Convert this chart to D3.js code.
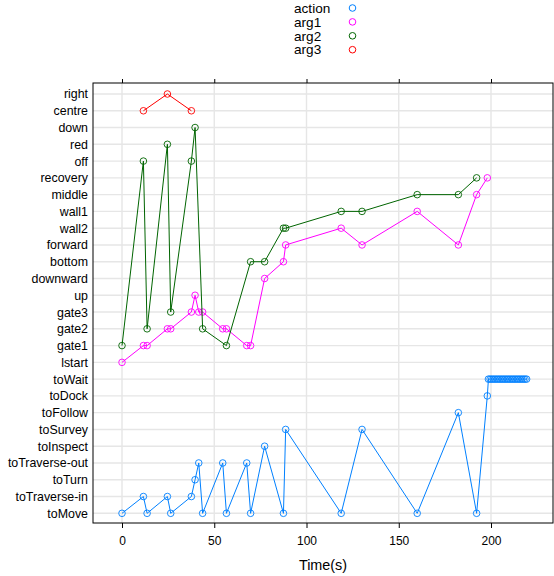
<!DOCTYPE html>
<html>
<head>
<meta charset="utf-8">
<script src="https://cdn.jsdelivr.net/npm/d3@7"></script>
<style>
  html, body { margin: 0; padding: 0; background: #ffffff; }
  svg { display: block; font-family: "Liberation Sans", Arial, Helvetica, sans-serif; }
</style>
</head>
<body>
<svg id="chart" width="554" height="576"></svg>
<script>
// Categorical states on the y axis, bottom to top
const categories = [
  "toMove", "toTraverse-in", "toTurn", "toTraverse-out", "toInspect", "toSurvey",
  "toFollow", "toDock", "toWait", "lstart", "gate1", "gate2", "gate3", "up",
  "downward", "bottom", "forward", "wall2", "wall1", "middle", "recovery",
  "off", "red", "down", "centre", "right"
];

const seriesNames = ["action", "arg1", "arg2", "arg3"];
const seriesColors = ["#0080ff", "#ff00ff", "#006400", "#ff0000"];

const xTicks = [0, 50, 100, 150, 200];

// action
const actionTime = [
  0, 11.6, 13.6, 24.6, 26.4, 37.6, 39.6, 41.6, 43.7, 54.6, 56.6, 67.6, 69.7,
  77.3, 87.5, 88.7, 118.8, 130.1, 160, 182.3, 192.2, 198,
  198.6, 199.5, 200.4, 201.3, 202.2, 203.1, 204.0, 204.9, 205.8, 206.7, 207.6,
  208.5, 209.4, 210.3, 211.2, 212.1, 213.0, 213.9, 214.8, 215.7, 216.6, 217.5,
  218.4, 219.3
];
const actionValue = [
  "toMove", "toTraverse-in", "toMove", "toTraverse-in", "toMove", "toTraverse-in",
  "toTurn", "toTraverse-out", "toMove", "toTraverse-out", "toMove", "toTraverse-out",
  "toMove", "toInspect", "toMove", "toSurvey", "toMove", "toSurvey", "toMove",
  "toFollow", "toMove", "toDock",
  "toWait", "toWait", "toWait", "toWait", "toWait", "toWait", "toWait", "toWait",
  "toWait", "toWait", "toWait", "toWait", "toWait", "toWait", "toWait", "toWait",
  "toWait", "toWait", "toWait", "toWait", "toWait", "toWait", "toWait", "toWait"
];

// arg1
const arg1Time = [
  0, 11.6, 13.6, 24.6, 26.4, 37.6, 39.6, 41.6, 43.7, 54.6, 56.6, 67.6, 69.7,
  77.3, 87.5, 88.7, 118.8, 130.1, 160, 182.3, 192.2, 198
];
const arg1Value = [
  "lstart", "gate1", "gate1", "gate2", "gate2", "gate3", "up", "gate3", "gate3",
  "gate2", "gate2", "gate1", "gate1", "downward", "bottom", "forward", "wall2",
  "forward", "wall1", "forward", "middle", "recovery"
];

// arg2
const arg2Time = [
  0, 11.6, 13.6, 24.6, 26.4, 37.6, 39.6, 43.7, 56.6, 69.7, 77.3, 87.5, 88.7,
  118.8, 130.1, 160, 182.3, 192.2
];
const arg2Value = [
  "gate1", "off", "gate2", "red", "gate3", "off", "down", "gate2", "gate1",
  "bottom", "bottom", "wall2", "wall2", "wall1", "wall1", "middle", "middle",
  "recovery"
];

// arg3
const arg3Time = [11.6, 24.6, 37.6];
const arg3Value = ["centre", "right", "centre"];

const seriesTimes = [actionTime, arg1Time, arg2Time, arg3Time];
const seriesValues = [actionValue, arg1Value, arg2Value, arg3Value];

const svg = d3.select("#chart");

// panel box
const panelLeft = 93, panelRight = 553, panelTop = 83, panelBottom = 523;

const x = d3.scaleLinear().domain([-15.72, 233.6]).range([panelLeft, panelRight]);
const y = d3.scalePoint().domain(categories).range([513.3, 94]);

// reference grid
const grid = svg.append("g");
grid.selectAll("line.h").data(categories).enter().append("line")
  .attr("x1", panelLeft).attr("x2", panelRight)
  .attr("y1", d => y(d)).attr("y2", d => y(d))
  .attr("stroke", "#e6e6e6").attr("stroke-width", 1.4);
grid.selectAll("line.v").data(xTicks).enter().append("line")
  .attr("x1", d => x(d)).attr("x2", d => x(d))
  .attr("y1", panelTop).attr("y2", panelBottom)
  .attr("stroke", "#e6e6e6").attr("stroke-width", 1.4);

// series lines and points
seriesNames.forEach((name, i) => {
  const pts = seriesTimes[i].map((t, j) => ({ t: t, v: seriesValues[i][j] }));
  const g = svg.append("g").attr("class", "series-" + name);
  g.append("path")
    .datum(pts)
    .attr("fill", "none")
    .attr("stroke", seriesColors[i])
    .attr("stroke-width", 1)
    .attr("d", d3.line().x(d => x(d.t)).y(d => y(d.v)));
  g.selectAll("circle").data(pts).enter().append("circle")
    .attr("cx", d => x(d.t))
    .attr("cy", d => y(d.v))
    .attr("r", 3.3)
    .attr("fill", "none")
    .attr("stroke", seriesColors[i])
    .attr("stroke-width", 0.9);
});

// panel frame
svg.append("rect")
  .attr("x", panelLeft).attr("y", panelTop)
  .attr("width", panelRight - panelLeft).attr("height", panelBottom - panelTop)
  .attr("fill", "none").attr("stroke", "#000").attr("stroke-width", 1);

// x axis (bottom, with tick labels)
const xAxisBottom = d3.axisBottom(x).tickValues(xTicks).tickSize(5).tickPadding(8);
const gxb = svg.append("g").attr("transform", `translate(0,${panelBottom})`).call(xAxisBottom);
gxb.select(".domain").remove();
gxb.selectAll("text").attr("font-size", 12).attr("fill", "#000")
  .attr("font-family", "Liberation Sans, Arial, sans-serif");

// x axis (top, ticks only)
const xAxisTop = d3.axisTop(x).tickValues(xTicks).tickSize(4).tickFormat("");
const gxt = svg.append("g").attr("transform", `translate(0,${panelTop})`).call(xAxisTop);
gxt.select(".domain").remove();

// y axis labels
const yAxis = d3.axisLeft(y).tickSize(0).tickPadding(5);
const gy = svg.append("g").attr("transform", `translate(${panelLeft},0)`).call(yAxis);
gy.select(".domain").remove();
gy.selectAll("text").attr("font-size", 12.4).attr("fill", "#000")
  .attr("font-family", "Liberation Sans, Arial, sans-serif");

// x axis title
svg.append("text")
  .attr("x", (panelLeft + panelRight) / 2).attr("y", 570)
  .attr("text-anchor", "middle")
  .attr("font-size", 14.4)
  .text("Time(s)");

// legend
const legend = svg.append("g");
seriesNames.forEach((name, i) => {
  const ly = 8 + i * 13.9;
  legend.append("text")
    .attr("x", 294).attr("y", ly)
    .attr("dy", "0.35em")
    .attr("font-size", 13.6)
    .text(name);
  legend.append("circle")
    .attr("cx", 352.5).attr("cy", ly)
    .attr("r", 3.3)
    .attr("fill", "none")
    .attr("stroke", seriesColors[i])
    .attr("stroke-width", 1);
});
</script>
</body>
</html>
